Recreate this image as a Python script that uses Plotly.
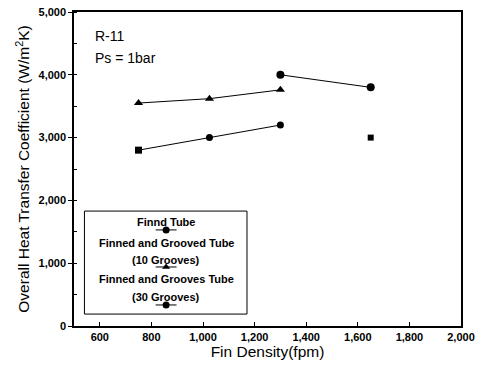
import plotly.graph_objects as go

# Data
finnd_x = [750, 1025, 1300]
finnd_y = [2800, 3000, 3200]
finnd_sym = ["square", "circle", "circle"]
extra_x = [1650]
extra_y = [3000]
g10_x = [750, 1025, 1300]
g10_y = [3550, 3620, 3760]
g30_x = [1300, 1650]
g30_y = [4000, 3800]

legend_labels = ["Finnd Tube", "Finned and Grooved Tube", "(10 Grooves)",
                 "Finned and Grooves Tube", "(30 Grooves)"]
legend_text_y = [0.331, 0.265, 0.210, 0.150, 0.093]
legend_sym = ["circle", "triangle-up", "circle"]
legend_sym_y = [0.306, 0.188, 0.067]

FONT = "Liberation Sans, Arial, sans-serif"
line = dict(color="black", width=1)

fig = go.Figure()
fig.add_trace(go.Scatter(x=finnd_x, y=finnd_y, mode="lines+markers", line=line,
                         marker=dict(symbol=finnd_sym, size=7, color="black"), showlegend=False))
fig.add_trace(go.Scatter(x=extra_x, y=extra_y, mode="markers",
                         marker=dict(symbol="square", size=6, color="black"), showlegend=False))
fig.add_trace(go.Scatter(x=g10_x, y=g10_y, mode="lines+markers", line=line,
                         marker=dict(symbol="triangle-up", size=8, color="black"), showlegend=False))
fig.add_trace(go.Scatter(x=g30_x, y=g30_y, mode="lines+markers", line=line,
                         marker=dict(symbol="circle", size=8, color="black"), showlegend=False))

# Legend samples (overlay axes in fraction units)
for s, yy in zip(legend_sym, legend_sym_y):
    fig.add_trace(go.Scatter(x=[0.211, 0.265], y=[yy, yy], mode="lines",
                             xaxis="x2", yaxis="y2", line=line,
                             showlegend=False, hoverinfo="skip"))
    fig.add_trace(go.Scatter(x=[0.238], y=[yy], mode="markers",
                             xaxis="x2", yaxis="y2",
                             marker=dict(symbol=s, size=7, color="black"),
                             showlegend=False, hoverinfo="skip"))

for t, yy in zip(legend_labels, legend_text_y):
    fig.add_annotation(x=0.239, y=yy, xref="paper", yref="paper", text=t, showarrow=False,
                       font=dict(family=FONT, size=11, color="black", weight="bold"),
                       xanchor="center", yanchor="middle")

fig.add_shape(type="rect", xref="paper", yref="paper", x0=0.027, x1=0.447, y0=0.038, y1=0.366,
              line=dict(color="black", width=1), fillcolor="rgba(0,0,0,0)")

fig.add_annotation(x=0.05, y=0.925, xref="paper", yref="paper", text="R-11", showarrow=False,
                   font=dict(family=FONT, size=14, color="black"), xanchor="left", yanchor="middle")
fig.add_annotation(x=0.05, y=0.855, xref="paper", yref="paper", text="Ps = 1bar", showarrow=False,
                   font=dict(family=FONT, size=14, color="black"), xanchor="left", yanchor="middle")

fig.update_layout(
    width=481, height=368,
    margin=dict(l=74, r=14, t=6, b=42),
    plot_bgcolor="white", paper_bgcolor="white",
    font=dict(family=FONT, color="black"),
    xaxis=dict(range=[500, 2000], tickvals=[600, 800, 1000, 1200, 1400, 1600, 1800, 2000],
               tickformat=",d", ticks="inside", ticklen=4, tickcolor="black",
               showline=True, linecolor="black", linewidth=1.5, mirror=True, showgrid=False,
               zeroline=False, tickfont=dict(size=11, weight="bold"),
               title=dict(text="Fin Density(fpm)", font=dict(size=15.5), standoff=3)),
    yaxis=dict(range=[0, 5000], tickvals=[0, 1000, 2000, 3000, 4000, 5000],
               tickformat=",d", ticks="outside", ticklen=4, tickcolor="black",
               minor=dict(dtick=500, ticks="inside", ticklen=3, tickcolor="black"),
               showline=True, linecolor="black", linewidth=1.5, mirror=True, showgrid=False,
               zeroline=False, tickfont=dict(size=11, weight="bold"),
               title=dict(text="Overall Heat Transfer Coefficient (W/m<sup>2</sup>K)",
                          font=dict(size=15.5), standoff=5)),
    xaxis2=dict(range=[0, 1], overlaying="x", visible=False),
    yaxis2=dict(range=[0, 1], overlaying="y", visible=False),
)

fig.write_html("out.html")
